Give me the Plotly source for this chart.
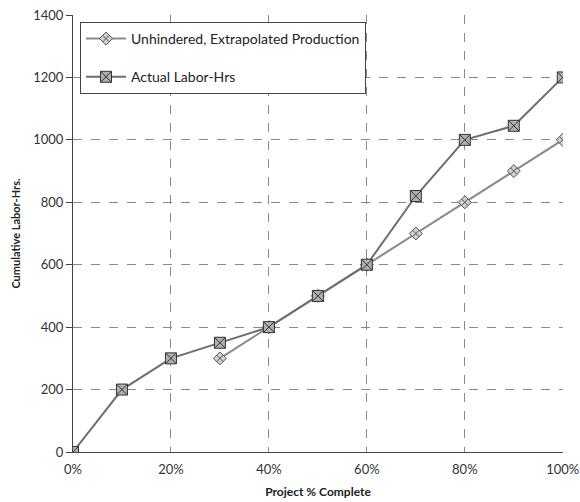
import plotly.graph_objects as go

pct_unh = [30, 40, 50, 60, 70, 80, 90, 100]
hrs_unh = [300, 400, 500, 600, 700, 800, 900, 1000]
pct_act = [0, 10, 20, 30, 40, 50, 60, 70, 80, 90, 100]
hrs_act = [0, 200, 300, 350, 400, 500, 600, 820, 1000, 1045, 1200]
x_ticks = [0, 20, 40, 60, 80, 100]
x_labels = ["0%", "20%", "40%", "60%", "80%", "100%"]
y_ticks = [0, 200, 400, 600, 800, 1000, 1200, 1400]

fig = go.Figure()
fig.add_trace(go.Scatter(
    x=pct_unh, y=hrs_unh, mode="lines+markers",
    name="Unhindered, Extrapolated Production", legendgroup="a",
    line=dict(color="#8a8a8a", width=2),
    marker=dict(symbol="diamond-x", size=10, color="#d0d0d0",
                line=dict(color="#555555", width=1)),
))
fig.add_trace(go.Scatter(
    x=pct_act, y=hrs_act, mode="lines+markers",
    name="Actual Labor-Hrs", legendgroup="b",
    line=dict(color="#6e6e6e", width=2),
    marker=dict(symbol="square-x", size=11, color="#b0b0b0",
                line=dict(color="#333333", width=1)),
))

fig.update_layout(
    width=580, height=502,
    margin=dict(l=73, r=17, t=15, b=50),
    paper_bgcolor="white", plot_bgcolor="white",
    font=dict(family="Lato, Open Sans, sans-serif", color="#222222"),
    showlegend=True,
    legend=dict(
        x=0.0143, y=0.984, xanchor="left", yanchor="top",
        bgcolor="white", bordercolor="#444444", borderwidth=1,
        font=dict(size=14, family="Lato, sans-serif", color="#222"),
        itemwidth=40, tracegroupgap=17, traceorder="grouped",
        entrywidth=264, entrywidthmode="pixels",
    ),
    xaxis=dict(
        range=[0, 100.05], tickvals=x_ticks, ticktext=x_labels,
        showgrid=True, gridcolor="#8a8a8a", griddash="dash", gridwidth=1,
        zeroline=False, showline=True, linecolor="#444", mirror=False,
        tickfont=dict(size=13, color="#333"), automargin=False,
        ticklabeloverflow="allow", ticks="outside", ticklen=5, tickcolor="white",
        title=dict(text="<b>Project % Complete</b>", font=dict(size=12), standoff=12),
    ),
    yaxis=dict(
        range=[0, 1400], tickvals=y_ticks, automargin=False,
        showgrid=True, gridcolor="#8a8a8a", griddash="dash", gridwidth=1,
        zeroline=False, showline=True, linecolor="#444",
        ticklabeloverflow="allow",
        tickfont=dict(size=13, color="#333"), ticks="outside", ticklen=6, tickcolor="#444",
        title=dict(text="<b>Cumulative Labor-Hrs.</b>", font=dict(size=11), standoff=10),
    ),
)
fig.write_html("out.html")
